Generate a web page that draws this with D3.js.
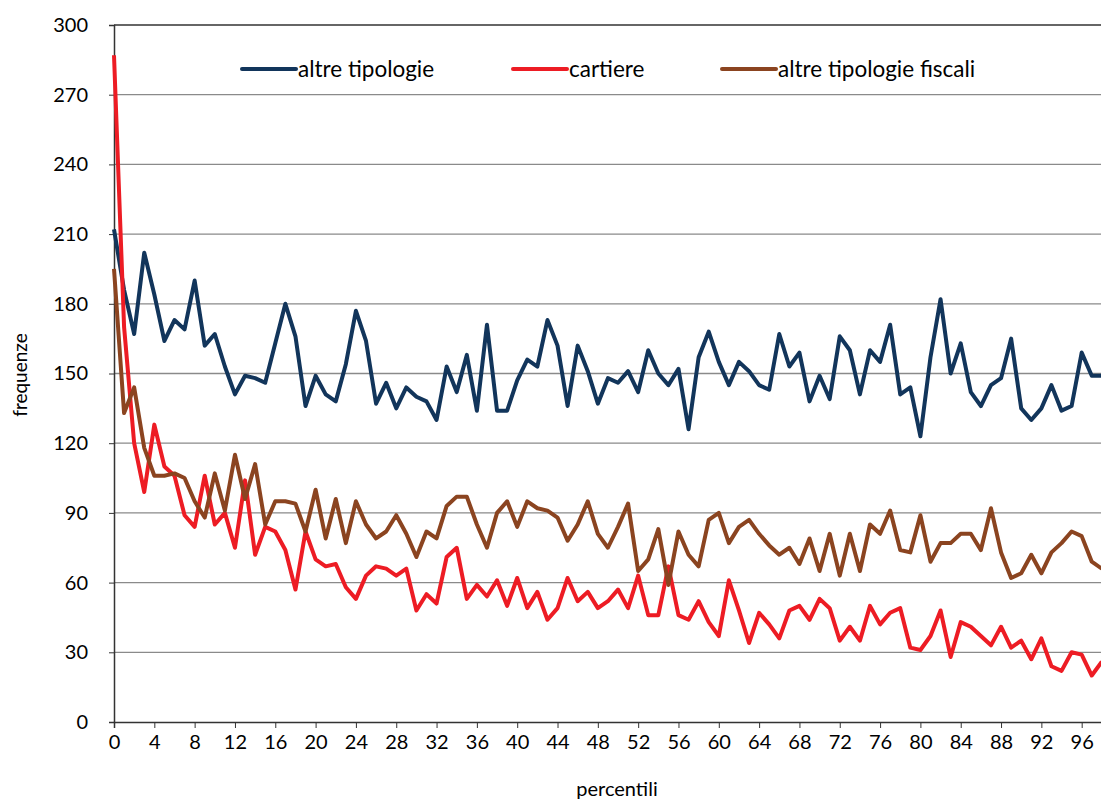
<!DOCTYPE html>
<html>
<head>
<meta charset="utf-8">
<script src="https://cdn.jsdelivr.net/npm/d3@7"></script>
<style>
  body { margin: 0; background: #fff; }
  svg text { font-family: Lato, "Open Sans", sans-serif; fill: #000; }
</style>
</head>
<body>
<svg id="chart" width="1101" height="802"></svg>
<script>
// percentili 0..98 (the right edge of the picture cuts the rest)
const altreTipologie = [212, 186, 167, 202, 184, 164, 173, 169, 190, 162,
  167, 153, 141, 149, 148, 146, 163, 180, 166, 136,
  149, 141, 138, 154, 177, 164, 137, 146, 135, 144,
  140, 138, 130, 153, 142, 158, 134, 171, 134, 134,
  147, 156, 153, 173, 162, 136, 162, 151, 137, 148,
  146, 151, 142, 160, 150, 145, 152, 126, 157, 168,
  155, 145, 155, 151, 145, 143, 167, 153, 159, 138,
  149, 139, 166, 160, 141, 160, 155, 171, 141, 144,
  123, 157, 182, 150, 163, 142, 136, 145, 148, 165,
  135, 130, 135, 145, 134, 136, 159, 149, 149]

const cartiere = [287, 170, 120, 99, 128, 110, 106, 89, 84, 106,
  85, 90, 75, 104, 72, 84, 82, 74, 57, 82,
  70, 67, 68, 58, 53, 63, 67, 66, 63, 66,
  48, 55, 51, 71, 75, 53, 59, 54, 61, 50,
  62, 49, 56, 44, 49, 62, 52, 56, 49, 52,
  57, 49, 63, 46, 46, 67, 46, 44, 52, 43,
  37, 61, 48, 34, 47, 42, 36, 48, 50, 44,
  53, 49, 35, 41, 35, 50, 42, 47, 49, 32,
  31, 37, 48, 28, 43, 41, 37, 33, 41, 32,
  35, 27, 36, 24, 22, 30, 29, 20, 26]

const altreFiscali = [195, 133, 144, 118, 106, 106, 107, 105, 95, 88,
  107, 91, 115, 96, 111, 85, 95, 95, 94, 82,
  100, 79, 96, 77, 95, 85, 79, 82, 89, 81,
  71, 82, 79, 93, 97, 97, 85, 75, 90, 95,
  84, 95, 92, 91, 88, 78, 85, 95, 81, 75,
  84, 94, 65, 70, 83, 59, 82, 72, 67, 87,
  90, 77, 84, 87, 81, 76, 72, 75, 68, 79,
  65, 81, 63, 81, 65, 85, 81, 91, 74, 73,
  89, 69, 77, 77, 81, 81, 74, 92, 73, 62,
  64, 72, 64, 73, 77, 82, 80, 69, 66]

const seriesNames = ["altre tipologie", "cartiere", "altre tipologie fiscali"]
const seriesColors = ["#12355b", "#ed1c24", "#8b4420"]
const yTicks = d3.range(0, 301, 30)
const xTicks = d3.range(0, 99, 4)

const svg = d3.select("#chart")
const plotLeft = 114, plotTop = 25, plotBottom = 722
const step = 10.08

const x = d3.scaleLinear().domain([0, 99]).range([plotLeft, plotLeft + 99 * step])
const y = d3.scaleLinear().domain([0, 300]).range([plotBottom, plotTop])

// gridlines
svg.append("g")
  .selectAll("line")
  .data(yTicks.filter(d => d > 0))
  .enter().append("line")
  .attr("x1", plotLeft).attr("x2", 1101)
  .attr("y1", d => y(d)).attr("y2", d => y(d))
  .attr("stroke", d => d === 300 ? "#333" : "#8a8a8a")
  .attr("stroke-width", 1.3)

// y axis
const yAxis = svg.append("g")
  .attr("transform", `translate(${plotLeft},0)`)
  .call(d3.axisLeft(y).tickValues(yTicks).tickSize(5).tickPadding(21))
yAxis.select(".domain").attr("stroke", "#333").attr("stroke-width", 1.5)
yAxis.selectAll(".tick line").attr("stroke", "#333")
yAxis.selectAll("text").style("font-size", "20px")

// x axis
const xAxis = svg.append("g")
  .attr("transform", `translate(0,${plotBottom})`)
  .call(d3.axisBottom(x).tickValues(xTicks).tickSize(6).tickPadding(7))
xAxis.select(".domain").attr("stroke", "#333").attr("stroke-width", 1.5)
xAxis.selectAll(".tick line").attr("stroke", "#333")
xAxis.selectAll("text").style("font-size", "20px")

// lines
const line = d3.line().x((d, i) => x(i)).y(d => y(d))
const allSeries = [altreTipologie, cartiere, altreFiscali]
svg.append("g")
  .selectAll("path")
  .data(allSeries)
  .enter().append("path")
  .attr("d", line)
  .attr("fill", "none")
  .attr("stroke", (d, i) => seriesColors[i])
  .attr("stroke-width", 4)
  .attr("stroke-linejoin", "round")

// legend
const legendX = [242, 513, 722]
const legend = svg.append("g")
  .selectAll("g")
  .data(seriesNames)
  .enter().append("g")
  .attr("transform", (d, i) => `translate(${legendX[i]},69)`)
legend.append("line")
  .attr("x1", 0).attr("x2", 54)
  .attr("stroke", (d, i) => seriesColors[i])
  .attr("stroke-width", 4)
  .attr("stroke-linecap", "round")
legend.append("text")
  .attr("x", 56).attr("dy", "0.35em")
  .style("font-size", "22.5px")
  .text(d => d)

// axis titles
svg.append("text")
  .attr("transform", "translate(27,375) rotate(-90)")
  .attr("text-anchor", "middle")
  .style("font-size", "19px")
  .text("frequenze")

svg.append("text")
  .attr("x", 617).attr("y", 796)
  .attr("text-anchor", "middle")
  .style("font-size", "20px")
  .text("percentili")
</script>
</body>
</html>
